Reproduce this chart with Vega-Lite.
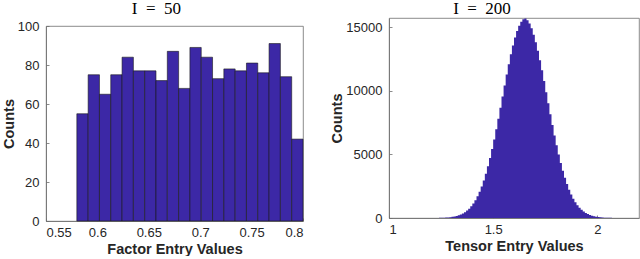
{
  "$schema": "https://vega.github.io/schema/vega-lite/v6.json",
  "padding": {"left": 0, "right": 0, "top": -1, "bottom": 0},
  "spacing": 25,
  "background": "white",
  "datasets": {
    "factor": [
      {"lo": 0.580, "hi": 0.591, "count": 55},
      {"lo": 0.591, "hi": 0.602, "count": 75},
      {"lo": 0.602, "hi": 0.613, "count": 65},
      {"lo": 0.613, "hi": 0.624, "count": 75},
      {"lo": 0.624, "hi": 0.635, "count": 84},
      {"lo": 0.635, "hi": 0.646, "count": 77},
      {"lo": 0.646, "hi": 0.657, "count": 77},
      {"lo": 0.657, "hi": 0.668, "count": 72},
      {"lo": 0.668, "hi": 0.679, "count": 87},
      {"lo": 0.679, "hi": 0.690, "count": 68},
      {"lo": 0.690, "hi": 0.701, "count": 89},
      {"lo": 0.701, "hi": 0.712, "count": 84},
      {"lo": 0.712, "hi": 0.723, "count": 73},
      {"lo": 0.723, "hi": 0.734, "count": 78},
      {"lo": 0.734, "hi": 0.745, "count": 77},
      {"lo": 0.745, "hi": 0.756, "count": 81},
      {"lo": 0.756, "hi": 0.767, "count": 76},
      {"lo": 0.767, "hi": 0.778, "count": 91},
      {"lo": 0.778, "hi": 0.789, "count": 74},
      {"lo": 0.789, "hi": 0.800, "count": 42}
    ],
    "tensor": [
      {"lo": 1.20, "count": 3},
      {"lo": 1.21, "count": 4},
      {"lo": 1.22, "count": 6},
      {"lo": 1.23, "count": 9},
      {"lo": 1.24, "count": 13},
      {"lo": 1.25, "count": 18},
      {"lo": 1.26, "count": 25},
      {"lo": 1.27, "count": 35},
      {"lo": 1.28, "count": 48},
      {"lo": 1.29, "count": 66},
      {"lo": 1.30, "count": 89},
      {"lo": 1.31, "count": 120},
      {"lo": 1.32, "count": 159},
      {"lo": 1.33, "count": 210},
      {"lo": 1.34, "count": 275},
      {"lo": 1.35, "count": 356},
      {"lo": 1.36, "count": 457},
      {"lo": 1.37, "count": 582},
      {"lo": 1.38, "count": 734},
      {"lo": 1.39, "count": 920},
      {"lo": 1.40, "count": 1141},
      {"lo": 1.41, "count": 1404},
      {"lo": 1.42, "count": 1713},
      {"lo": 1.43, "count": 2072},
      {"lo": 1.44, "count": 2485},
      {"lo": 1.45, "count": 2955},
      {"lo": 1.46, "count": 3484},
      {"lo": 1.47, "count": 4073},
      {"lo": 1.48, "count": 4720},
      {"lo": 1.49, "count": 5423},
      {"lo": 1.50, "count": 6178},
      {"lo": 1.51, "count": 6978},
      {"lo": 1.52, "count": 7814},
      {"lo": 1.53, "count": 8675},
      {"lo": 1.54, "count": 9549},
      {"lo": 1.55, "count": 10422},
      {"lo": 1.56, "count": 11277},
      {"lo": 1.57, "count": 12099},
      {"lo": 1.58, "count": 12870},
      {"lo": 1.59, "count": 13572},
      {"lo": 1.60, "count": 14191},
      {"lo": 1.61, "count": 14711},
      {"lo": 1.62, "count": 15120},
      {"lo": 1.63, "count": 15440},
      {"lo": 1.64, "count": 15640},
      {"lo": 1.65, "count": 15700},
      {"lo": 1.66, "count": 15560},
      {"lo": 1.67, "count": 15300},
      {"lo": 1.68, "count": 14930},
      {"lo": 1.69, "count": 14411},
      {"lo": 1.70, "count": 13831},
      {"lo": 1.71, "count": 13160},
      {"lo": 1.72, "count": 12414},
      {"lo": 1.73, "count": 11611},
      {"lo": 1.74, "count": 10767},
      {"lo": 1.75, "count": 9900},
      {"lo": 1.76, "count": 9025},
      {"lo": 1.77, "count": 8156},
      {"lo": 1.78, "count": 7309},
      {"lo": 1.79, "count": 6493},
      {"lo": 1.80, "count": 5719},
      {"lo": 1.81, "count": 4995},
      {"lo": 1.82, "count": 4324},
      {"lo": 1.83, "count": 3713},
      {"lo": 1.84, "count": 3161},
      {"lo": 1.85, "count": 2666},
      {"lo": 1.86, "count": 2231},
      {"lo": 1.87, "count": 1850},
      {"lo": 1.88, "count": 1522},
      {"lo": 1.89, "count": 1241},
      {"lo": 1.90, "count": 1003},
      {"lo": 1.91, "count": 805},
      {"lo": 1.92, "count": 640},
      {"lo": 1.93, "count": 504},
      {"lo": 1.94, "count": 393},
      {"lo": 1.95, "count": 305},
      {"lo": 1.96, "count": 234},
      {"lo": 1.97, "count": 178},
      {"lo": 1.98, "count": 134},
      {"lo": 1.99, "count": 101},
      {"lo": 2.00, "count": 75},
      {"lo": 2.01, "count": 55},
      {"lo": 2.02, "count": 40},
      {"lo": 2.03, "count": 29},
      {"lo": 2.04, "count": 21},
      {"lo": 2.05, "count": 15},
      {"lo": 2.06, "count": 10},
      {"lo": 2.07, "count": 0}
    ]
  },
  "config": {
    "font": "Liberation Sans",
    "concat": {"spacing": 0},
    "view": {"stroke": "#6e6e6e", "strokeWidth": 0.8},
    "axis": {
      "labelFont": "Liberation Sans",
      "labelFontSize": 13,
      "labelColor": "#262626",
      "titleFont": "Liberation Sans",
      "titleFontSize": 14.5,
      "titleFontWeight": "bold",
      "titleColor": "#262626",
      "domainColor": "#6e6e6e",
      "domainWidth": 0.8,
      "tickColor": "#6e6e6e",
      "tickWidth": 0.8,
      "tickSize": -3,
      "grid": false
    },
    "axisX": {"labelPadding": 8, "titlePadding": 3},
    "axisY": {"labelPadding": 10, "titlePadding": 1},
    "title": {"font": "Liberation Serif", "fontSize": 17, "fontWeight": "normal", "color": "#000000", "anchor": "middle"}
  },
  "hconcat": [
    {
      "title": {"text": "I\u2002=\u200250", "dx": 4, "offset": 0},
      "spacing": 0,
      "vconcat": [
        {
          "width": 257,
          "height": 1,
          "data": {"values": []},
          "mark": "point",
          "encoding": {},
          "view": {"stroke": null}
        },
        {
          "width": 257,
          "height": 195,
          "data": {"name": "factor"},
          "mark": {"type": "bar", "color": "#3c28a6", "stroke": "#1a1a1a", "strokeWidth": 0.6},
          "encoding": {
            "x": {
              "field": "lo",
              "type": "quantitative",
              "scale": {"domain": [0.55, 0.8], "nice": false, "zero": false},
              "axis": {"title": "Factor Entry Values", "values": [0.55, 0.6, 0.65, 0.7, 0.75, 0.8], "format": "~g"}
            },
            "x2": {"field": "hi"},
            "y": {
              "field": "count",
              "type": "quantitative",
              "scale": {"domain": [0, 100], "nice": false},
              "axis": {"title": "Counts", "values": [0, 20, 40, 60, 80, 100]}
            },
            "y2": {"datum": 0}
          }
        }
      ]
    },
    {
      "title": {"text": "I\u2002=\u2002200", "dx": -32, "offset": 0},
      "width": 250,
      "height": 200,
      "data": {"name": "tensor"},
      "mark": {"type": "area", "interpolate": "step-after", "color": "#3c28a6"},
      "encoding": {
        "x": {
          "field": "lo",
          "type": "quantitative",
          "scale": {"domain": [1, 2.2], "nice": false, "zero": false},
          "axis": {"title": "Tensor Entry Values", "values": [1, 1.5, 2], "format": "~g"}
        },
        "y": {
          "field": "count",
          "type": "quantitative",
          "scale": {"domain": [0, 15730], "nice": false},
          "axis": {"title": "Counts", "values": [0, 5000, 10000, 15000], "format": "d"}
        }
      }
    }
  ]
}
